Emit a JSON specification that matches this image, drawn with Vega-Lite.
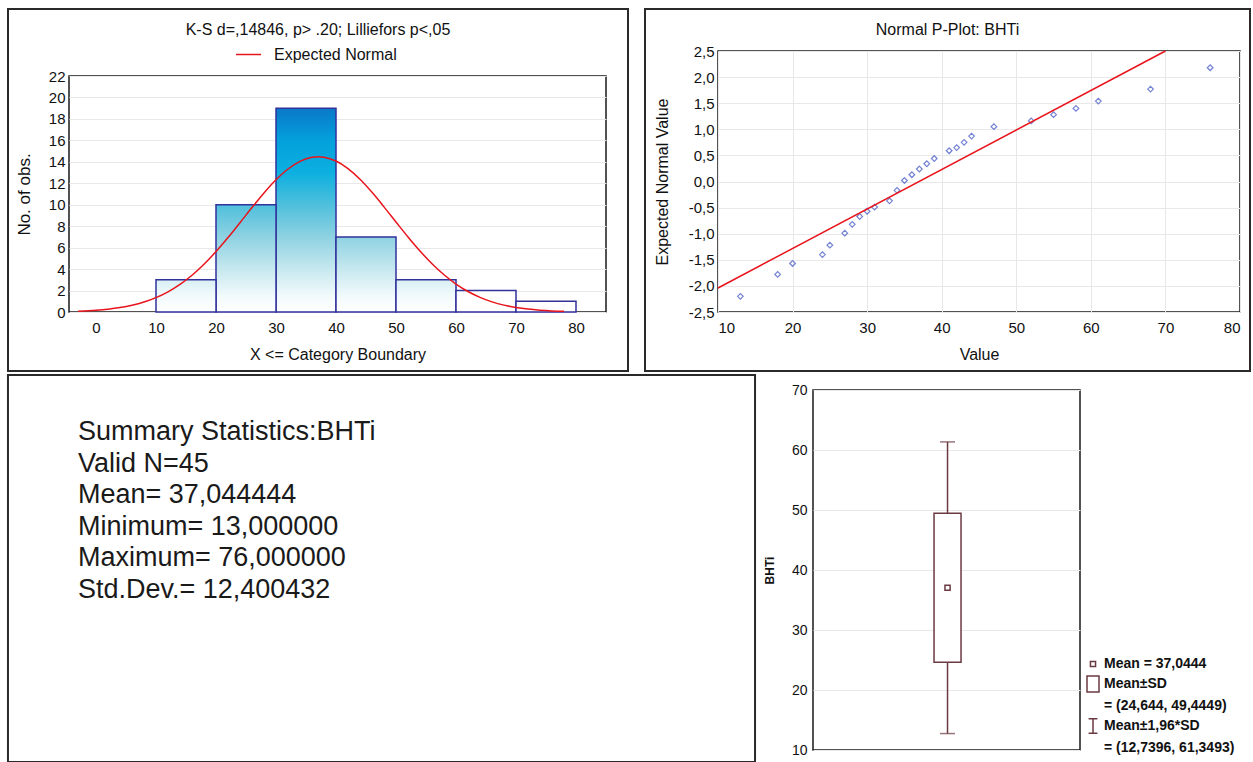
{
  "$schema": "https://vega.github.io/schema/vega-lite/v6.json",
  "background": "white",
  "padding": {"left": 6, "top": 6, "right": 0, "bottom": 0},
  "config": {
    "font": "Liberation Sans",
    "view": {"stroke": "#1a1a1a", "strokeWidth": 1.5},
    "axis": {
      "labelFont": "Liberation Sans",
      "labelFontSize": 15,
      "labelColor": "#111111",
      "labelOverlap": false,
      "titleFont": "Liberation Sans",
      "titleFontSize": 16,
      "titleFontWeight": "normal",
      "titleColor": "#111111",
      "ticks": false,
      "domain": false,
      "gridColor": "#e8e8e8",
      "labelPadding": 4
    },
    "title": {"font": "Liberation Sans", "fontSize": 16, "fontWeight": "normal", "color": "#111111"}
  },
  "resolve": {"legend": {"color": "independent", "shape": "independent"}, "scale": {"color": "independent", "shape": "independent"}},
  "spacing": 0,
  "vconcat": [
    {
      "spacing": 13,
      "resolve": {"legend": {"color": "independent", "shape": "independent"}, "scale": {"color": "independent", "shape": "independent"}},
      "hconcat": [
        {
          "spacing": 0,
          "resolve": {"legend": {"color": "independent", "shape": "independent"}, "scale": {"color": "independent", "shape": "independent"}},
          "vconcat": [
            {
              "width": 1, "height": 1, "view": {"stroke": null},
              "data": {"values": [{"s": 0}]},
              "mark": {"type": "point", "opacity": 0, "size": 1},
              "encoding": {}
            },
            {
              "width": 537,
              "height": 236,
              "title": {"text": "K-S d=,14846, p> .20; Lilliefors p<,05", "offset": -30, "frame": "bounds"},
              "layer": [
                {
                  "data": {"values": [
                    {"x0": 10, "x1": 20, "n": 3},
                    {"x0": 20, "x1": 30, "n": 10},
                    {"x0": 30, "x1": 40, "n": 19},
                    {"x0": 40, "x1": 50, "n": 7},
                    {"x0": 50, "x1": 60, "n": 3},
                    {"x0": 60, "x1": 70, "n": 2},
                    {"x0": 70, "x1": 80, "n": 1}
                  ]},
                  "encoding": {
                    "x": {"field": "x0", "type": "quantitative", "title": "X <= Category Boundary",
                          "scale": {"domain": [-4.5, 85], "nice": false, "zero": false},
                          "axis": {"values": [0, 10, 20, 30, 40, 50, 60, 70, 80], "grid": false, "labelPadding": 8, "titlePadding": 11}},
                    "x2": {"field": "x1"},
                    "y": {"field": "n", "type": "quantitative", "title": "No. of obs.",
                          "scale": {"domain": [0, 22], "nice": false},
                          "axis": {"values": [0, 2, 4, 6, 8, 10, 12, 14, 16, 18, 20, 22], "grid": true, "titlePadding": 15, "titleFontSize": 17}},
                    "y2": {"datum": 0}
                  },
                  "layer": [
                    {
                      "transform": [{"filter": "datum.n == 19"}],
                      "mark": {"type": "rect", "stroke": "#32329c", "strokeWidth": 1.5,
                        "fill": {"gradient": "linear", "x1": 0, "y1": 0, "x2": 0, "y2": 1, "stops": [
                          {"offset": 0, "color": "#0a78c8"},
                          {"offset": 0.158, "color": "#04a0dc"},
                          {"offset": 0.316, "color": "#0cb0e0"},
                          {"offset": 0.474, "color": "#4fbfdc"},
                          {"offset": 0.632, "color": "#8ed2e2"},
                          {"offset": 0.789, "color": "#c6e8ef"},
                          {"offset": 0.921, "color": "#f2fafc"},
                          {"offset": 1, "color": "#ffffff"}
                        ]}}
                    },
                    {
                      "transform": [{"filter": "datum.n == 10"}],
                      "mark": {"type": "rect", "stroke": "#32329c", "strokeWidth": 1.5,
                        "fill": {"gradient": "linear", "x1": 0, "y1": 0, "x2": 0, "y2": 1, "stops": [
                          {"offset": 0, "color": "#4fbfdc"},
                          {"offset": 0.3, "color": "#8ed2e2"},
                          {"offset": 0.6, "color": "#c6e8ef"},
                          {"offset": 0.85, "color": "#f2fafc"},
                          {"offset": 1, "color": "#ffffff"}
                        ]}}
                    },
                    {
                      "transform": [{"filter": "datum.n == 7"}],
                      "mark": {"type": "rect", "stroke": "#32329c", "strokeWidth": 1.5,
                        "fill": {"gradient": "linear", "x1": 0, "y1": 0, "x2": 0, "y2": 1, "stops": [
                          {"offset": 0, "color": "#8ed2e2"},
                          {"offset": 0.429, "color": "#c6e8ef"},
                          {"offset": 0.786, "color": "#f2fafc"},
                          {"offset": 1, "color": "#ffffff"}
                        ]}}
                    },
                    {
                      "transform": [{"filter": "datum.n == 3"}],
                      "mark": {"type": "rect", "stroke": "#32329c", "strokeWidth": 1.5,
                        "fill": {"gradient": "linear", "x1": 0, "y1": 0, "x2": 0, "y2": 1, "stops": [
                          {"offset": 0, "color": "#d8f0f4"},
                          {"offset": 0.5, "color": "#f2fafc"},
                          {"offset": 1, "color": "#ffffff"}
                        ]}}
                    },
                    {
                      "transform": [{"filter": "datum.n < 3"}],
                      "mark": {"type": "rect", "stroke": "#32329c", "strokeWidth": 1.5, "fill": "#ffffff"}
                    }
                  ]
                },
                {
                  "data": {"values": [
                    {"cx": -3, "cy": 0.079}, {"cx": 0, "cy": 0.167}, {"cx": 2, "cy": 0.267}, {"cx": 4, "cy": 0.416},
                    {"cx": 6, "cy": 0.631}, {"cx": 8, "cy": 0.932}, {"cx": 10, "cy": 1.342}, {"cx": 12, "cy": 1.884},
                    {"cx": 14, "cy": 2.575}, {"cx": 16, "cy": 3.430}, {"cx": 18, "cy": 4.452}, {"cx": 20, "cy": 5.629},
                    {"cx": 22, "cy": 6.936}, {"cx": 24, "cy": 8.326}, {"cx": 26, "cy": 9.738}, {"cx": 28, "cy": 11.097},
                    {"cx": 30, "cy": 12.321}, {"cx": 32, "cy": 13.329}, {"cx": 34, "cy": 14.048}, {"cx": 36, "cy": 14.427},
                    {"cx": 37, "cy": 14.478}, {"cx": 38, "cy": 14.435}, {"cx": 40, "cy": 14.073}, {"cx": 42, "cy": 13.366},
                    {"cx": 44, "cy": 12.370}, {"cx": 46, "cy": 11.154}, {"cx": 48, "cy": 9.800}, {"cx": 50, "cy": 8.389},
                    {"cx": 52, "cy": 6.996}, {"cx": 54, "cy": 5.684}, {"cx": 56, "cy": 4.500}, {"cx": 58, "cy": 3.471},
                    {"cx": 60, "cy": 2.609}, {"cx": 62, "cy": 1.911}, {"cx": 64, "cy": 1.363}, {"cx": 66, "cy": 0.947},
                    {"cx": 68, "cy": 0.642}, {"cx": 70, "cy": 0.424}, {"cx": 72, "cy": 0.272}, {"cx": 74, "cy": 0.171},
                    {"cx": 76, "cy": 0.104}, {"cx": 78, "cy": 0.062}
                  ]},
                  "mark": {"type": "line", "strokeWidth": 1.5, "interpolate": "monotone"},
                  "encoding": {
                    "x": {"field": "cx", "type": "quantitative", "title": "X <= Category Boundary",
                          "scale": {"domain": [-4.5, 85], "nice": false, "zero": false},
                          "axis": {"values": [0, 10, 20, 30, 40, 50, 60, 70, 80], "grid": false, "labelPadding": 8, "titlePadding": 11}},
                    "y": {"field": "cy", "type": "quantitative", "title": "No. of obs.",
                          "scale": {"domain": [0, 22], "nice": false},
                          "axis": {"values": [0, 2, 4, 6, 8, 10, 12, 14, 16, 18, 20, 22], "grid": true, "titlePadding": 15, "titleFontSize": 17}},
                    "color": {"datum": "Expected Normal", "type": "nominal",
                      "scale": {"range": ["#e8141c"]},
                      "legend": {"orient": "none", "legendX": 166, "legendY": -35, "title": null,
                        "symbolType": "stroke", "symbolSize": 625, "symbolStrokeWidth": 1.5,
                        "labelFont": "Liberation Sans", "labelFontSize": 16, "labelColor": "#111111",
                        "labelOffset": 12, "padding": 0}}
                  }
                },
                {
                  "data": {"values": [{}]},
                  "mark": {"type": "rect", "fill": "transparent", "stroke": "#2a2a2a", "strokeWidth": 2},
                  "encoding": {
                    "x": {"datum": -14.667, "type": "quantitative", "title": "X <= Category Boundary",
                          "scale": {"domain": [-4.5, 85], "nice": false, "zero": false},
                          "axis": {"values": [0, 10, 20, 30, 40, 50, 60, 70, 80], "grid": false, "labelPadding": 8, "titlePadding": 11}},
                    "x2": {"datum": 88.667},
                    "y": {"datum": 28.246, "type": "quantitative", "title": "No. of obs.",
                          "scale": {"domain": [0, 22], "nice": false},
                          "axis": {"values": [0, 2, 4, 6, 8, 10, 12, 14, 16, 18, 20, 22], "grid": true, "titlePadding": 15, "titleFontSize": 17}},
                    "y2": {"datum": -5.5}
                  }
                }
              ]
            }
          ]
        },
        {
          "spacing": 0,
          "resolve": {"legend": {"color": "independent", "shape": "independent"}, "scale": {"color": "independent", "shape": "independent"}},
          "vconcat": [
            {
              "width": 1, "height": 1, "view": {"stroke": null},
              "data": {"values": [{"s": 0}]},
              "mark": {"type": "point", "opacity": 0, "size": 1},
              "encoding": {}
            },
            {
              "width": 522,
              "height": 261,
              "title": {"text": "Normal P-Plot: BHTi", "offset": -30, "frame": "bounds"},
              "layer": [
                {
                  "data": {"values": [
                    {"v": 13, "z": -2.2}, {"v": 18, "z": -1.78}, {"v": 20, "z": -1.57}, {"v": 24, "z": -1.4},
                    {"v": 25, "z": -1.22}, {"v": 27, "z": -0.99}, {"v": 28, "z": -0.82}, {"v": 29, "z": -0.67},
                    {"v": 30, "z": -0.57}, {"v": 31, "z": -0.49}, {"v": 33, "z": -0.37}, {"v": 34, "z": -0.17},
                    {"v": 35, "z": 0.02}, {"v": 36, "z": 0.13}, {"v": 37, "z": 0.24}, {"v": 38, "z": 0.34},
                    {"v": 39, "z": 0.44}, {"v": 41, "z": 0.59}, {"v": 42, "z": 0.65}, {"v": 43, "z": 0.75},
                    {"v": 44, "z": 0.87}, {"v": 47, "z": 1.05}, {"v": 52, "z": 1.16}, {"v": 55, "z": 1.28},
                    {"v": 58, "z": 1.40}, {"v": 61, "z": 1.54}, {"v": 68, "z": 1.77}, {"v": 76, "z": 2.18}
                  ]},
                  "mark": {"type": "point", "shape": "diamond", "filled": false, "size": 32, "strokeWidth": 1.2, "color": "#3b4fc4"},
                  "encoding": {
                    "x": {"field": "v", "type": "quantitative", "title": "Value",
                          "scale": {"domain": [10, 80], "nice": false, "zero": false},
                          "axis": {"values": [10, 20, 30, 40, 50, 60, 70, 80], "grid": true, "labelPadding": 8, "titlePadding": 11}},
                    "y": {"field": "z", "type": "quantitative", "title": "Expected Normal Value",
                          "scale": {"domain": [-2.5, 2.5], "nice": false, "zero": false},
                          "axis": {"values": [-2.5, -2, -1.5, -1, -0.5, 0, 0.5, 1, 1.5, 2, 2.5], "grid": true, "titlePadding": 18,
                                   "labelExpr": "replace(replace(format(datum.value, '.1f'), '.', ','), '\u2212', '-')"}}
                  }
                },
                {
                  "data": {"values": [{"lx": 10, "lz": -2.04}, {"lx": 70, "lz": 2.5}]},
                  "mark": {"type": "line", "color": "#e8141c", "strokeWidth": 1.5},
                  "encoding": {
                    "x": {"field": "lx", "type": "quantitative", "title": "Value",
                          "scale": {"domain": [10, 80], "nice": false, "zero": false},
                          "axis": {"values": [10, 20, 30, 40, 50, 60, 70, 80], "grid": true, "labelPadding": 8, "titlePadding": 11}},
                    "y": {"field": "lz", "type": "quantitative", "title": "Expected Normal Value",
                          "scale": {"domain": [-2.5, 2.5], "nice": false, "zero": false},
                          "axis": {"values": [-2.5, -2, -1.5, -1, -0.5, 0, 0.5, 1, 1.5, 2, 2.5], "grid": true, "titlePadding": 18,
                                   "labelExpr": "replace(replace(format(datum.value, '.1f'), '.', ','), '\u2212', '-')"}}
                  }
                },
                {
                  "data": {"values": [{}]},
                  "mark": {"type": "rect", "fill": "transparent", "stroke": "#2a2a2a", "strokeWidth": 2},
                  "encoding": {
                    "x": {"datum": 0.211, "type": "quantitative", "title": "Value",
                          "scale": {"domain": [10, 80], "nice": false, "zero": false},
                          "axis": {"values": [10, 20, 30, 40, 50, 60, 70, 80], "grid": true, "labelPadding": 8, "titlePadding": 11}},
                    "x2": {"datum": 81.341},
                    "y": {"datum": 3.305, "type": "quantitative", "title": "Expected Normal Value",
                          "scale": {"domain": [-2.5, 2.5], "nice": false, "zero": false},
                          "axis": {"values": [-2.5, -2, -1.5, -1, -0.5, 0, 0.5, 1, 1.5, 2, 2.5], "grid": true, "titlePadding": 18,
                                   "labelExpr": "replace(replace(format(datum.value, '.1f'), '.', ','), '\u2212', '-')"}},
                    "y2": {"datum": -3.630}
                  }
                }
              ]
            }
          ]
        }
      ]
    },
    {
      "spacing": 5,
      "resolve": {"legend": {"color": "independent", "shape": "independent"}, "scale": {"color": "independent", "shape": "independent"}},
      "hconcat": [
        {
          "width": 685,
          "height": 360,
          "view": {"stroke": null},
          "layer": [
            {
              "data": {"values": [
                {"i": 0, "t": "Summary Statistics:BHTi"},
                {"i": 1, "t": "Valid N=45"},
                {"i": 2, "t": "Mean= 37,044444"},
                {"i": 3, "t": "Minimum= 13,000000"},
                {"i": 4, "t": "Maximum= 76,000000"},
                {"i": 5, "t": "Std.Dev.= 12,400432"}
              ]},
              "mark": {"type": "text", "align": "left", "baseline": "middle", "font": "Liberation Sans", "fontSize": 27, "color": "#1a1a1a"},
              "encoding": {
                "x": {"datum": 0.013, "type": "quantitative", "scale": {"domain": [0, 1], "nice": false, "zero": false}, "axis": null},
                "y": {"field": "i", "type": "quantitative", "scale": {"domain": [-1.329, 10.063], "nice": false, "zero": false, "reverse": true}, "axis": null},
                "text": {"field": "t"}
              }
            },
            {
              "data": {"values": [{}]},
              "mark": {"type": "rect", "fill": "transparent", "stroke": "#2a2a2a", "strokeWidth": 2},
              "encoding": {
                "x": {"datum": -0.0891, "type": "quantitative", "scale": {"domain": [0, 1], "nice": false, "zero": false}, "axis": null},
                "x2": {"datum": 1.0015},
                "y": {"datum": -1.804, "type": "quantitative", "scale": {"domain": [-1.329, 10.063], "nice": false, "zero": false, "reverse": true}, "axis": null},
                "y2": {"datum": 10.443}
              }
            }
          ]
        },
        {
          "width": 267,
          "height": 360,
          "data": {"values": [{"g": "BHTi", "mean": 37.0444, "sdlo": 24.644, "sdhi": 49.4449, "lo": 12.7396, "hi": 61.3493}]},
          "encoding": {
            "x": {"datum": 0.504, "type": "quantitative", "axis": null, "scale": {"domain": [0, 1], "nice": false, "zero": false}},
            "y": {"field": "lo", "type": "quantitative", "title": "BHTi",
                  "scale": {"domain": [10, 70], "nice": false, "zero": false},
                  "axis": {"values": [10, 20, 30, 40, 50, 60, 70], "grid": true, "labelFontSize": 14, "labelPadding": 6, "titlePadding": 15, "titleFontSize": 12, "titleFontWeight": "bold"}}
          },
          "layer": [
            {
              "mark": {"type": "rule", "color": "#6b3a40", "strokeWidth": 1.5},
              "encoding": {"y2": {"field": "hi"}}
            },
            {
              "mark": {"type": "tick", "orient": "horizontal", "size": 15, "thickness": 1.5, "color": "#6b3a40"}
            },
            {
              "mark": {"type": "tick", "orient": "horizontal", "size": 15, "thickness": 1.5, "color": "#6b3a40"},
              "encoding": {"y": {"field": "hi", "type": "quantitative", "title": "BHTi"}}
            },
            {
              "mark": {"type": "bar", "width": 27, "fill": "white", "stroke": "#6b3a40", "strokeWidth": 1.5, "orient": "vertical"},
              "encoding": {
                "y": {"field": "sdlo", "type": "quantitative", "title": "BHTi"},
                "y2": {"field": "sdhi"}
              }
            },
            {
              "mark": {"type": "point", "filled": false, "size": 256, "strokeWidth": 1.5, "color": "#6b3a40", "opacity": 1},
              "encoding": {
                "y": {"field": "mean", "type": "quantitative", "title": "BHTi"},
                "shape": {"datum": "Mean = 37,0444", "type": "nominal",
                  "scale": {
                    "domain": ["Mean = 37,0444", "Mean±SD", "= (24,644, 49,4449)", "Mean±1,96*SD", "= (12,7396, 61,3493)"],
                    "range": ["M-0.32,-0.32H0.32V0.32H-0.32Z", "M-0.75,-1H0.75V1H-0.75Z", "M0,0", "M-0.55,-0.9H0.55M0,-0.9V0.9M-0.55,0.9H0.55", "M0,0"]
                  },
                  "legend": {"orient": "none", "legendX": 271, "legendY": 265, "title": null,
                    "labelFont": "Liberation Sans", "labelFontSize": 14, "labelFontWeight": "bold", "labelColor": "#111111",
                    "symbolSize": 256, "symbolStrokeWidth": 1.5, "symbolStrokeColor": "#6b3a40", "symbolFillColor": "transparent",
                    "rowPadding": 2, "labelOffset": 2, "padding": 0}}
              }
            },
            {
              "data": {"values": [{}]},
              "mark": {"type": "rect", "fill": "transparent", "stroke": "#2a2a2a", "strokeWidth": 2},
              "encoding": {
                "x": {"datum": -0.1985, "type": "quantitative", "axis": null, "scale": {"domain": [0, 1], "nice": false, "zero": false}},
                "x2": {"datum": 1.644},
                "y": {"datum": 72.5, "type": "quantitative", "title": "BHTi"},
                "y2": {"datum": 7.9}
              }
            }
          ]
        }
      ]
    }
  ]
}
